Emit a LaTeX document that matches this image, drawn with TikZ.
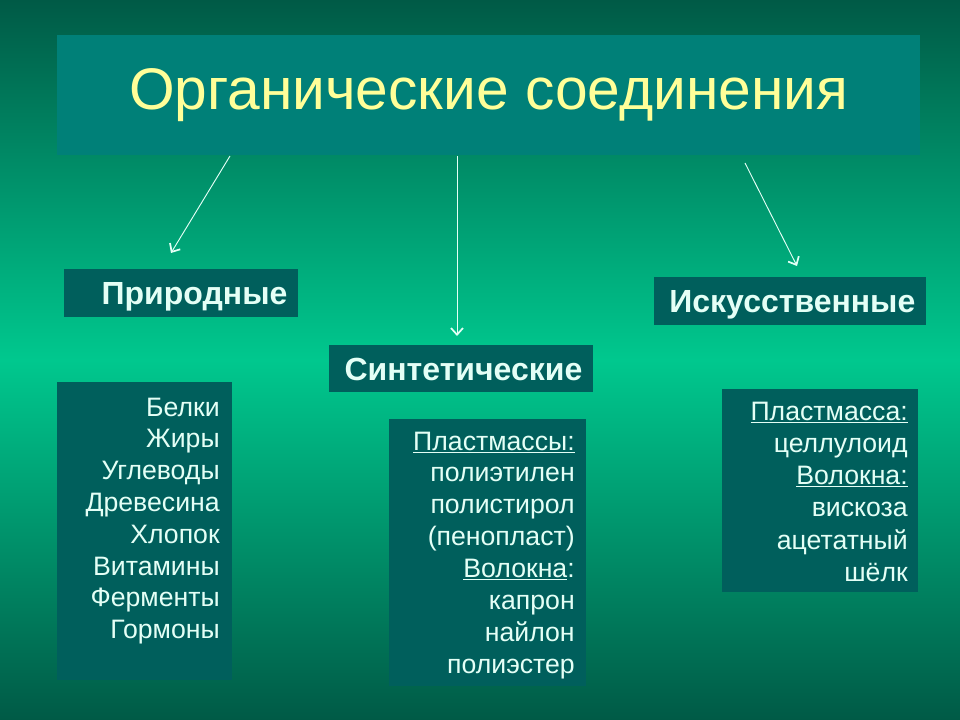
\documentclass[tikz,border=0pt]{standalone}
\usepackage{fontspec}
\setmainfont{Liberation Sans}
\usetikzlibrary{arrows.meta,positioning}

\definecolor{bgdark}{HTML}{005A46}
\definecolor{bglight}{HTML}{00C88E}
\definecolor{titlefill}{HTML}{008078}
\definecolor{boxfill}{HTML}{005F5C}
\definecolor{titletext}{HTML}{FFFF99}
\definecolor{boxtext}{HTML}{E4FFF6}

\pgfdeclareverticalshading{slidebg}{100bp}{color(0bp)=(bgdark); color(25bp)=(bgdark); color(50bp)=(bglight); color(75bp)=(bgdark); color(100bp)=(bgdark)}

\tikzset{
  headbox/.style={fill=boxfill, text=boxtext, font=\fontsize{24}{28}\selectfont\bfseries,
    align=right, inner xsep=8pt, inner ysep=0pt, text height=17.5pt, text depth=0pt},
  listitem/.style={text=boxtext, font=\fontsize{20}{24}\selectfont, inner sep=0pt, anchor=base east},
  branch/.style={draw=boxtext, line width=0.7pt, -{Straight Barb[length=5pt,width=9pt,line width=1.3pt]}}
}

\begin{document}
\begin{tikzpicture}[x=0.75pt,y=-0.75pt]
\useasboundingbox (0,0) rectangle (960,720);
\shade[shading=slidebg] (0,0) rectangle (960,720);

\node[fill=titlefill, text=titletext, font=\fontsize{44}{50}\selectfont,
      minimum width=647.25pt, minimum height=90pt] (title) at (488.5,95) {Органические соединения};

\node[headbox, minimum width=175.5pt, minimum height=36pt, text width=159.5pt] (nat) at (181,293) {Природные};
\node[headbox, minimum width=198pt, minimum height=35.25pt, text width=182pt] (synth) at (461,368.5) {Синтетические};
\node[headbox, minimum width=204pt, minimum height=36pt, text width=188pt] (art) at (790,301) {Искусственные};

\coordinate (natFrom) at (230,156);
\coordinate (natTip) at (171,253);
\coordinate (synthFrom) at (457,156);
\coordinate (synthTip) at (457,336);
\coordinate (artFrom) at (745,163);
\coordinate (artTip) at (797,266);

\draw[branch] (natFrom) -- (natTip);
\draw[branch] (synthFrom) -- (synthTip);
\draw[branch] (artFrom) -- (artTip);

\fill[boxfill] (57,382) rectangle (232,680);
\fill[boxfill] (389,419) rectangle (586,686);
\fill[boxfill] (722,389) rectangle (918,592);

\foreach \w [count=\i] in {Белки,Жиры,Углеводы,Древесина,Хлопок,Витамины,Ферменты,Гормоны}
  \node[listitem] (natlist-\i) at (220,{416+31.8*(\i-1)}) {\w};

\foreach \w [count=\i] in {\underline{Пластмассы:},полиэтилен,полистирол,(пенопласт),\underline{Волокна}:,капрон,найлон,полиэстер}
  \node[listitem] (synthlist-\i) at (575,{450+31.9*(\i-1)}) {\w};

\foreach \w [count=\i] in {\underline{Пластмасса:},целлулоид,\underline{Волокна:},вискоза,ацетатный,шёлк}
  \node[listitem] (artlist-\i) at (908,{420+32.3*(\i-1)}) {\w};

\end{tikzpicture}
\end{document}
